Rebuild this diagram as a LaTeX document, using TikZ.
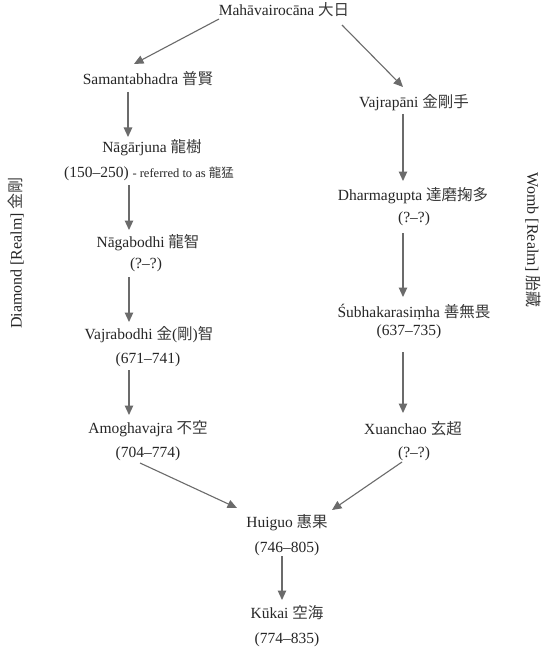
\documentclass[tikz,border=0pt]{standalone}
\usepackage{fontspec}
\setmainfont{Liberation Serif}
\newfontfamily\cjkfont{Noto Sans CJK JP}
\newcommand{\cjk}{\cjkfont\color{cjkgray}}
\usetikzlibrary{arrows.meta,calc}
\definecolor{txt}{HTML}{262626}
\definecolor{cjkgray}{HTML}{3A3A3A}
\definecolor{arrgray}{HTML}{6B6B6B}
\tikzset{
  lbl/.style={anchor=base, inner sep=0pt, text=txt, font=\fontsize{15.5}{18}\selectfont},
  side/.style={inner sep=0pt, text=txt, font=\fontsize{16}{19}\selectfont},
  arr/.style={draw=arrgray, line width=1.1pt, -{Triangle[length=9.5pt,width=8.5pt]}}
}
\begin{document}
\begin{tikzpicture}[x=1pt,y=-1pt]
\fill[white] (0,0) rectangle (541,650);
\useasboundingbox (0,0) rectangle (541,650);
% top
\node[lbl] (maha) at (284,16) {Mahāvairocāna {\cjk 大日}};
% left column
\node[lbl] (sam) at (148,85) {Samantabhadra {\cjk 普賢}};
\node[lbl] (nag) at (152,153) {Nāgārjuna {\cjk 龍樹}};
\node[lbl] (nagd) at (149,177) {(150–250) {\fontsize{12.5}{15}\selectfont - referred to as {\cjk 龍猛}}};
\node[lbl] (nagb) at (148,247) {Nāgabodhi {\cjk 龍智}};
\node[lbl] (nagbd) at (146,268) {(?–?)};
\node[lbl] (vjb) at (149,339) {Vajrabodhi {\cjk 金}({\cjk 剛}){\cjk 智}};
\node[lbl] (vjbd) at (148,363) {(671–741)};
\node[lbl] (amo) at (148,433) {Amoghavajra {\cjk 不空}};
\node[lbl] (amod) at (148,457) {(704–774)};
% right column
\node[lbl] (vjp) at (414,108) {Vajrapāni {\cjk 金剛手}};
\node[lbl] (dhg) at (413,200) {Dharmagupta {\cjk 達磨掬多}};
\node[lbl] (dhgd) at (414,222) {(?–?)};
\node[lbl] (sub) at (414,317) {Śubhakarasiṃha {\cjk 善無畏}};
\node[lbl] (subd) at (409,335) {(637–735)};
\node[lbl] (xua) at (413,434) {Xuanchao {\cjk 玄超}};
\node[lbl] (xuad) at (414,457) {(?–?)};
% bottom
\node[lbl] (hui) at (287,527) {Huiguo {\cjk 惠果}};
\node[lbl] (huid) at (287,552) {(746–805)};
\node[lbl] (kuk) at (287,618) {Kūkai {\cjk 空海}};
\node[lbl] (kukd) at (287,643) {(774–835)};
% side labels
\node[side, rotate=90] (diam) at (16,253) {Diamond [Realm] {\cjk 金剛}};
\node[side, rotate=-90] (womb) at (533,240) {Womb [Realm] {\cjk 胎藏}};
% connectors
\draw[arr] ($(maha.base)+(-65,3)$) -- ($(sam.base)+(-14,-21)$);
\draw[arr] ($(maha.base)+(58,9)$) -- ($(vjp.base)+(-11,-21)$);
\draw[arr] ($(sam.base)+(-20,7)$) -- ($(nag.base)+(-24,-16)$);
\draw[arr] ($(nagd.base)+(-20,8)$) -- ($(nagb.base)+(-19,-17)$);
\draw[arr] ($(nagbd.base)+(-17,9)$) -- ($(vjb.base)+(-20,-17)$);
\draw[arr] ($(vjbd.base)+(-19,7)$) -- ($(amo.base)+(-19,-18)$);
\draw[arr] ($(vjp.base)+(-11,6)$) -- ($(dhg.base)+(-10,-19)$);
\draw[arr] ($(dhgd.base)+(-11,11)$) -- ($(sub.base)+(-11,-20)$);
\draw[arr] ($(subd.base)+(-6,17)$) -- ($(xua.base)+(-10,-21)$);
\draw[arr] ($(amod.base)+(-8,6)$) -- ($(hui.base)+(-50,-19)$);
\draw[arr] ($(xuad.base)+(-12,5)$) -- ($(hui.base)+(45,-17)$);
\draw[arr] ($(huid.base)+(-5,4)$) -- ($(kuk.base)+(-5,-18)$);
\end{tikzpicture}
\end{document}
